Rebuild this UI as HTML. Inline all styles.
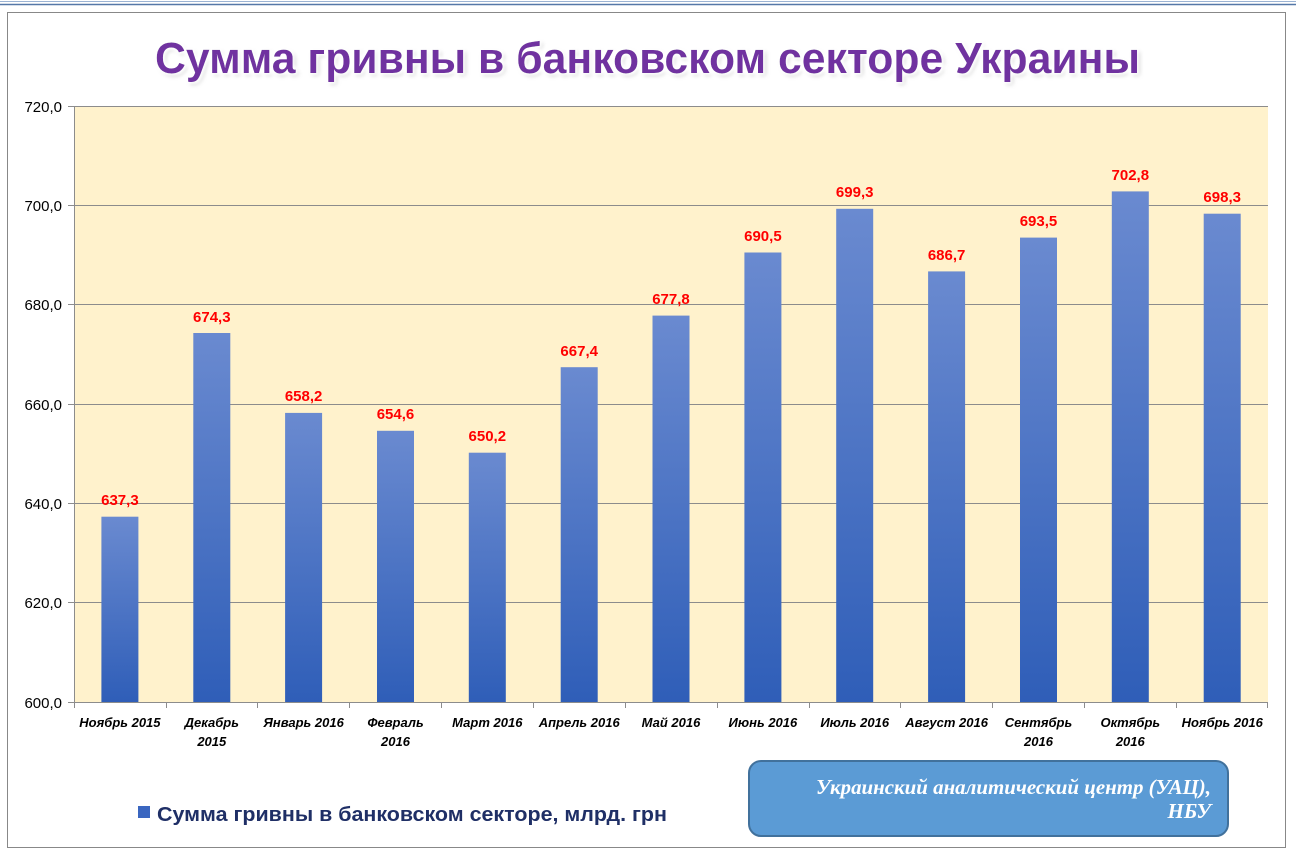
<!DOCTYPE html>
<html><head><meta charset="utf-8"><style>
html,body{margin:0;padding:0;background:#fff;width:1296px;height:854px;overflow:hidden}
svg{display:block}
</style></head><body>
<svg width="1296" height="854" viewBox="0 0 1296 854" xmlns="http://www.w3.org/2000/svg" font-family="'Liberation Sans', sans-serif">
<defs>
<linearGradient id="bg" x1="0" y1="0" x2="0" y2="1">
<stop offset="0" stop-color="#6a8ad0"/><stop offset="1" stop-color="#2f5eb8"/>
</linearGradient>
<filter id="glow" x="-5%" y="-20%" width="110%" height="140%">
<feMorphology in="SourceAlpha" operator="dilate" radius="2.5" result="d"/>
<feGaussianBlur in="d" stdDeviation="1.5" result="b"/>
<feFlood flood-color="#ffffff"/><feComposite in2="b" operator="in" result="w"/>
<feOffset in="SourceAlpha" dx="2" dy="2" result="o"/><feGaussianBlur in="o" stdDeviation="2" result="sh"/>
<feFlood flood-color="#999"/><feComposite in2="sh" operator="in" result="s"/>
<feMerge><feMergeNode in="s"/><feMergeNode in="w"/><feMergeNode in="SourceGraphic"/></feMerge>
</filter>
</defs>
<rect x="0" y="0" width="1296" height="854" fill="#fff"/>
<line x1="0" y1="1.5" x2="1296" y2="1.5" stroke="#9bb3d3" stroke-width="1"/>
<line x1="0" y1="4.5" x2="1296" y2="4.5" stroke="#5578a8" stroke-width="1.5"/>
<rect x="7.5" y="12.5" width="1278" height="835" fill="#fff" stroke="#888" stroke-width="1"/>
<text x="155" y="73" textLength="985" lengthAdjust="spacingAndGlyphs" font-size="44" font-weight="bold" fill="#7030a0" filter="url(#glow)">Сумма гривны в банковском секторе Украины</text>
<rect x="74" y="106" width="1194" height="596" fill="#fff2cc"/>
<g stroke="#8c8c8c" stroke-width="1">
<line x1="68" y1="106.5" x2="1268" y2="106.5"/>
<line x1="68" y1="205.5" x2="1268" y2="205.5"/>
<line x1="68" y1="304.5" x2="1268" y2="304.5"/>
<line x1="68" y1="404.5" x2="1268" y2="404.5"/>
<line x1="68" y1="503.5" x2="1268" y2="503.5"/>
<line x1="68" y1="602.5" x2="1268" y2="602.5"/>
<line x1="68" y1="702.5" x2="1268" y2="702.5"/>
<line x1="74.5" y1="106" x2="74.5" y2="708"/>
</g>
<g stroke="#8c8c8c"><line x1="166.5" y1="702" x2="166.5" y2="708"/><line x1="257.5" y1="702" x2="257.5" y2="708"/><line x1="349.5" y1="702" x2="349.5" y2="708"/><line x1="441.5" y1="702" x2="441.5" y2="708"/><line x1="533.5" y1="702" x2="533.5" y2="708"/><line x1="625.5" y1="702" x2="625.5" y2="708"/><line x1="717.5" y1="702" x2="717.5" y2="708"/><line x1="809.5" y1="702" x2="809.5" y2="708"/><line x1="900.5" y1="702" x2="900.5" y2="708"/><line x1="992.5" y1="702" x2="992.5" y2="708"/><line x1="1084.5" y1="702" x2="1084.5" y2="708"/><line x1="1176.5" y1="702" x2="1176.5" y2="708"/><line x1="1267.5" y1="702" x2="1267.5" y2="708"/></g>
<g font-size="15" fill="#000" text-anchor="end">
<text x="62" y="112">720,0</text><text x="62" y="211">700,0</text><text x="62" y="310">680,0</text><text x="62" y="410">660,0</text><text x="62" y="509">640,0</text><text x="62" y="608">620,0</text><text x="62" y="708">600,0</text>
</g>
<g fill="url(#bg)">
<rect x="101.4" y="516.7" width="37" height="185.3"/>
<rect x="193.3" y="333" width="37" height="369"/>
<rect x="285.1" y="412.9" width="37" height="289.1"/>
<rect x="377" y="430.8" width="37" height="271.2"/>
<rect x="468.8" y="452.7" width="37" height="249.3"/>
<rect x="560.7" y="367.2" width="37" height="334.8"/>
<rect x="652.5" y="315.6" width="37" height="386.4"/>
<rect x="744.4" y="252.5" width="37" height="449.5"/>
<rect x="836.2" y="208.8" width="37" height="493.2"/>
<rect x="928.1" y="271.4" width="37" height="430.6"/>
<rect x="1020" y="237.6" width="37" height="464.4"/>
<rect x="1111.8" y="191.4" width="37" height="510.6"/>
<rect x="1203.7" y="213.7" width="37" height="488.3"/>
</g>
<g font-size="15" font-weight="bold" fill="#ff0000" text-anchor="middle">
<text x="119.9" y="505">637,3</text><text x="211.8" y="322">674,3</text><text x="303.6" y="401">658,2</text><text x="395.5" y="419">654,6</text><text x="487.3" y="441">650,2</text><text x="579.2" y="356">667,4</text><text x="671" y="304">677,8</text><text x="762.9" y="241">690,5</text><text x="854.7" y="197">699,3</text><text x="946.6" y="260">686,7</text><text x="1038.5" y="226">693,5</text><text x="1130.3" y="180">702,8</text><text x="1222.2" y="202">698,3</text>
</g>
<g font-size="13" font-weight="bold" font-style="italic" fill="#000" text-anchor="middle">
<text x="119.9" y="727">Ноябрь 2015</text>
<text x="211.8" y="727">Декабрь</text><text x="211.8" y="746">2015</text>
<text x="303.6" y="727">Январь 2016</text>
<text x="395.5" y="727">Февраль</text><text x="395.5" y="746">2016</text>
<text x="487.3" y="727">Март 2016</text>
<text x="579.2" y="727">Апрель 2016</text>
<text x="671" y="727">Май 2016</text>
<text x="762.9" y="727">Июнь 2016</text>
<text x="854.7" y="727">Июль 2016</text>
<text x="946.6" y="727">Август 2016</text>
<text x="1038.5" y="727">Сентябрь</text><text x="1038.5" y="746">2016</text>
<text x="1130.3" y="727">Октябрь</text><text x="1130.3" y="746">2016</text>
<text x="1222.2" y="727">Ноябрь 2016</text>
</g>
<rect x="138" y="806" width="12" height="12" fill="#3a66c0"/>
<text x="157" y="821" textLength="510" lengthAdjust="spacingAndGlyphs" font-size="20" font-weight="bold" fill="#1f2f66">Сумма гривны в банковском секторе, млрд. грн</text>
<rect x="749" y="761" width="479" height="75" rx="12" fill="#5b9bd5" stroke="#41719c" stroke-width="2"/>
<g font-family="'Liberation Serif', serif" font-size="21" font-weight="bold" font-style="italic" fill="#fff">
<text x="816" y="794" textLength="395" lengthAdjust="spacingAndGlyphs">Украинский аналитический центр (УАЦ),</text>
<text x="1211" y="818" text-anchor="end">НБУ</text>
</g>
</svg>
</body></html>
